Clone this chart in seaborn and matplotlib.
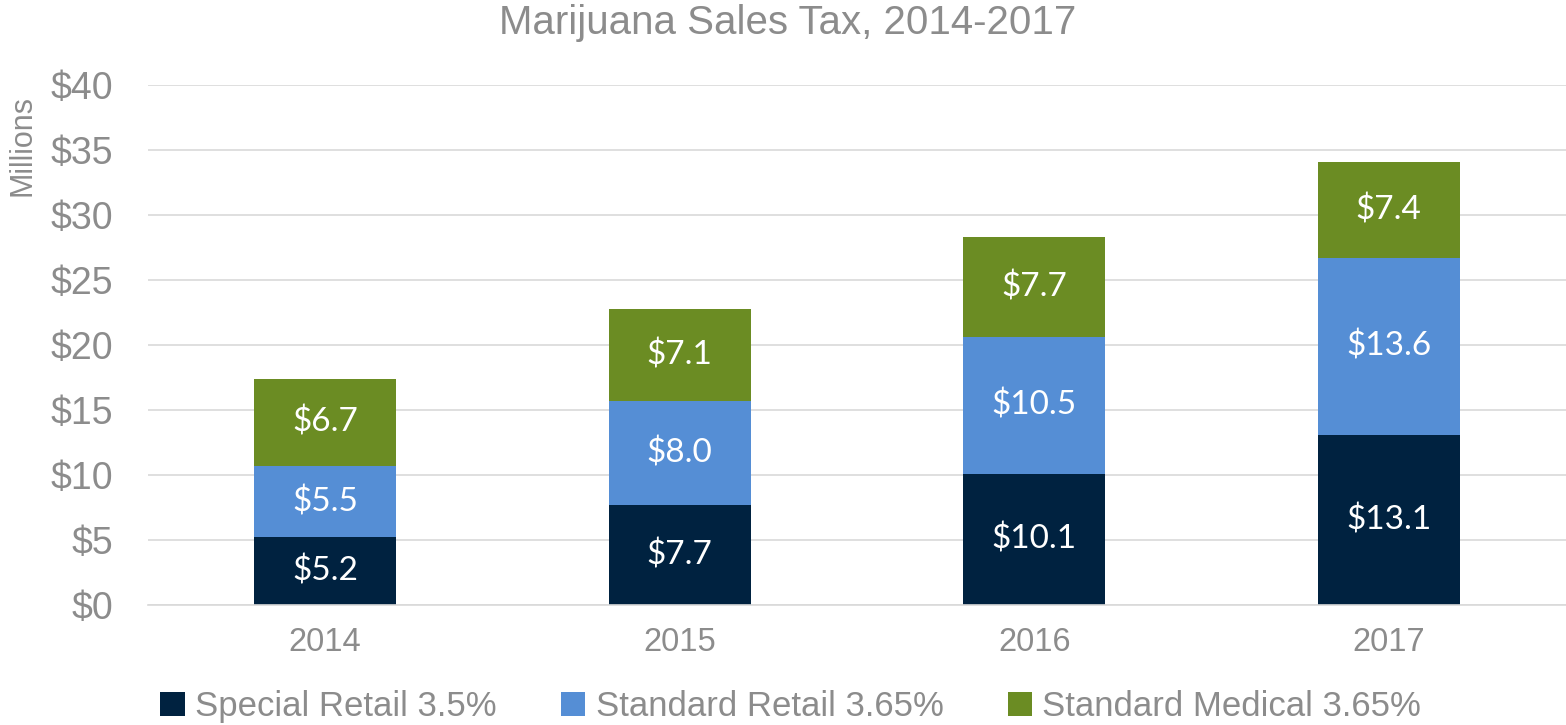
import matplotlib
matplotlib.use("Agg")
import matplotlib.pyplot as plt
import seaborn as sns
import numpy as np
import pandas as pd
from matplotlib.patches import Patch

years = ["2014", "2015", "2016", "2017"]
special_retail = [5.2, 7.7, 10.1, 13.1]
standard_retail = [5.5, 8.0, 10.5, 13.6]
standard_medical = [6.7, 7.1, 7.7, 7.4]
series_names = ["Special Retail 3.5%", "Standard Retail 3.65%", "Standard Medical 3.65%"]
colors = ["#002240", "#558ED5", "#6B8C23"]
yticks = [0, 5, 10, 15, 20, 25, 30, 35, 40]
title = "Marijuana Sales Tax, 2014-2017"

sns.set_theme(style="white")
plt.rcParams['font.family'] = ['Liberation Sans', 'DejaVu Sans']
grey = "#8C8C8C"

fig = plt.figure(figsize=(15.66, 7.25), dpi=100)
ax = fig.add_axes([0.0945, 0.1655, 0.9055, 0.7173])

bottoms = np.zeros(len(years))
for vals, name, col in zip([special_retail, standard_retail, standard_medical], series_names, colors):
    sns.barplot(x=years, y=vals, color=col, width=0.4, bottom=bottoms.copy(), ax=ax,
                saturation=1, linewidth=0, errorbar=None)
    bottoms = bottoms + np.array(vals)

for cont in ax.containers:
    ax.bar_label(cont, labels=[f"${v:.1f}" for v in cont.datavalues], label_type="center",
                 color="white", fontsize=24, family=["Lato", "DejaVu Sans"])

ax.set_ylim(0, 40)
ax.set_xlim(-0.5, 3.5)
ax.set_yticks(yticks)
ax.set_yticklabels([f"${t}" for t in yticks], fontsize=27, color=grey)
ax.tick_params(axis="x", labelsize=23.5, colors=grey, pad=16, length=0)
ax.tick_params(axis="y", pad=25, length=0)
ax.yaxis.grid(True, color="#D9D9D9", linewidth=1.2)
ax.set_axisbelow(True)
for s in ["top", "right", "left"]:
    ax.spines[s].set_visible(False)
ax.spines["bottom"].set_color("#D9D9D9")
ax.spines["bottom"].set_linewidth(1.2)

ax.set_ylabel("")
fig.text(0.0145, 0.80, "Millions", rotation=90, fontsize=22, color=grey, ha="center", va="center")
fig.text(0.503, 0.968, title, fontsize=29, color=grey, ha="center", va="center")

handles = [Patch(facecolor=c, edgecolor="none") for c in colors]
leg = fig.legend(handles, series_names, loc="center", bbox_to_anchor=(0.505, 0.025), ncol=3,
                 frameon=False, fontsize=25, handlelength=0.7, handleheight=0.7,
                 handletextpad=0.3, columnspacing=1.85, labelcolor=grey)

fig.savefig("out.png", dpi=100)
